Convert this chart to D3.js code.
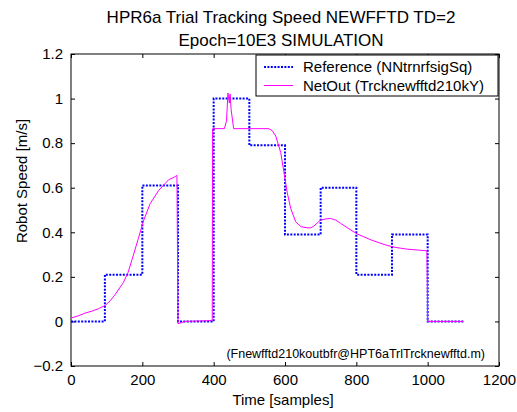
<!DOCTYPE html>
<html>
<head>
<meta charset="utf-8">
<script src="https://cdn.jsdelivr.net/npm/d3@7"></script>
<style>
  html, body { margin: 0; padding: 0; background: #fff; }
  svg { display: block; font-family: "Liberation Sans", Arial, Helvetica, sans-serif; }
</style>
</head>
<body>
<svg id="chart" width="517" height="412"></svg>
<script>
// ---- data ----
const titleLines = ["HPR6a Trial Tracking Speed NEWFFTD TD=2", "Epoch=10E3 SIMULATION"];
const xLabel = "Time [samples]";
const yLabel = "Robot Speed [m/s]";
const note = "(Fnewfftd210koutbfr@HPT6aTrlTrcknewfftd.m)";
const seriesNames = ["Reference (NNtrnrfsigSq)", "NetOut (Trcknewfftd210kY)"];
const xTicks = [0, 200, 400, 600, 800, 1000, 1200];
const yTicks = [-0.2, 0, 0.2, 0.4, 0.6, 0.8, 1, 1.2];

// Reference: step edges and levels
const refEdges  = [0, 95, 200, 300, 400, 500, 600, 700, 800, 900, 1000, 1100];
const refLevels = [0, 0.21, 0.61, 0, 1.0, 0.79, 0.39, 0.6, 0.21, 0.39, 0];

// NetOut samples
const netT = [0, 20, 39, 60, 77, 96, 110, 124, 147, 160, 171, 189, 203, 222, 246, 274, 290, 297,
              300, 310, 320, 396, 397, 430, 436, 440, 443, 444, 446, 449, 456, 555, 565, 574, 588,
              597, 606, 616, 630, 645, 663, 672, 681, 700, 715, 728, 742, 756, 785, 803, 841, 878,
              906, 944, 975, 998, 1000, 1100];
const netV = [0.015, 0.025, 0.037, 0.047, 0.057, 0.072, 0.093, 0.121, 0.175, 0.22, 0.277, 0.373, 0.45,
              0.529, 0.588, 0.636, 0.648, 0.655,
              -0.01, -0.005, 0.0, 0.004, 0.865, 0.865, 0.9, 1.025, 0.99, 0.98, 1.02, 0.95, 0.865,
              0.865, 0.855, 0.832, 0.758, 0.67, 0.58, 0.507, 0.447, 0.425, 0.42, 0.42, 0.428, 0.455,
              0.46, 0.462, 0.455, 0.44, 0.41, 0.392, 0.366, 0.345, 0.333, 0.324, 0.32, 0.317, 0.0, 0.0];

// ---- layout ----
const svg = d3.select("#chart");
const L = 71, R = 499, T = 54, B = 366;
const x = d3.scaleLinear().domain([0, 1200]).range([L, R]);
const y = d3.scaleLinear().domain([-0.2, 1.2]).range([B, T]);
const tickLen = 4;
const fs = 15;

// plot background
svg.append("rect").attr("x", L).attr("y", T).attr("width", R - L).attr("height", B - T)
  .attr("fill", "#fff");

// axes with inward ticks on all four sides
const fmtY = d => (Math.abs(d) < 1e-9 ? "0" : (d === 1 ? "1" : d3.format("")(+d.toFixed(1))));
function styleAxis(g) {
  g.select(".domain").remove();
  g.selectAll("line").attr("stroke", "#000").attr("stroke-width", 1);
  g.selectAll("text").attr("fill", "#000").attr("font-size", fs)
    .attr("font-family", "'Liberation Sans', Arial, sans-serif");
}
svg.append("g").attr("transform", `translate(0,${B})`)
  .call(d3.axisBottom(x).tickValues(xTicks).tickSizeInner(-tickLen).tickSizeOuter(0).tickPadding(8).tickFormat(d3.format("d")))
  .call(styleAxis);
svg.append("g").attr("transform", `translate(0,${T})`)
  .call(d3.axisTop(x).tickValues(xTicks).tickSizeInner(-tickLen).tickSizeOuter(0).tickFormat(""))
  .call(styleAxis);
svg.append("g").attr("transform", `translate(${L},0)`)
  .call(d3.axisLeft(y).tickValues(yTicks).tickSizeInner(-tickLen).tickSizeOuter(0).tickPadding(8).tickFormat(fmtY))
  .call(styleAxis);
svg.append("g").attr("transform", `translate(${R},0)`)
  .call(d3.axisRight(y).tickValues(yTicks).tickSizeInner(-tickLen).tickSizeOuter(0).tickFormat(""))
  .call(styleAxis);

// frame
svg.append("rect").attr("x", L).attr("y", T).attr("width", R - L).attr("height", B - T)
  .attr("fill", "none").attr("stroke", "#000").attr("stroke-width", 1);

// reference step line
const refPts = refLevels.map((v, i) => [refEdges[i], v]);
refPts.push([refEdges[refEdges.length - 1], refLevels[refLevels.length - 1]]);
const refLine = d3.line().x(d => x(d[0])).y(d => y(d[1])).curve(d3.curveStepAfter);
svg.append("path").datum(refPts).attr("d", refLine)
  .attr("fill", "none").attr("stroke", "#0000ff").attr("stroke-width", 2)
  .attr("stroke-dasharray", "2,1.4");

// NetOut line
const netLine = d3.line().x((d, i) => x(netT[i])).y(d => y(d));
svg.append("path").datum(netV).attr("d", netLine)
  .attr("fill", "none").attr("stroke", "#ff00ff").attr("stroke-width", 1);

// annotation
svg.append("text").attr("x", 485).attr("y", 358).attr("text-anchor", "end")
  .attr("font-size", 12.5).attr("fill", "#000").text(note);

// legend
const lg = svg.append("g");
lg.append("rect").attr("x", 256).attr("y", 55).attr("width", 242).attr("height", 41)
  .attr("fill", "#fff").attr("stroke", "#000").attr("stroke-width", 1);
const legendStyles = [
  { color: "#0000ff", width: 2, dash: "2,1.4" },
  { color: "#ff00ff", width: 1, dash: null }
];
seriesNames.forEach((name, i) => {
  const cy = 67 + i * 18.5;
  const ln = lg.append("line").attr("x1", 264).attr("x2", 293).attr("y1", cy).attr("y2", cy)
    .attr("stroke", legendStyles[i].color).attr("stroke-width", legendStyles[i].width);
  if (legendStyles[i].dash) ln.attr("stroke-dasharray", legendStyles[i].dash);
  lg.append("text").attr("x", 303).attr("y", cy + 5.3).attr("font-size", fs)
    .attr("fill", "#000").text(name);
});

// titles and labels
titleLines.forEach((t, i) => {
  svg.append("text").attr("x", 281).attr("y", 23 + i * 23).attr("text-anchor", "middle")
    .attr("font-size", 17).attr("fill", "#000").text(t);
});
svg.append("text").attr("x", 283).attr("y", 405).attr("text-anchor", "middle")
  .attr("font-size", fs).attr("fill", "#000").text(xLabel);
svg.append("text").attr("transform", "translate(27,181) rotate(-90)").attr("text-anchor", "middle")
  .attr("font-size", fs).attr("fill", "#000").text(yLabel);
</script>
</body>
</html>
